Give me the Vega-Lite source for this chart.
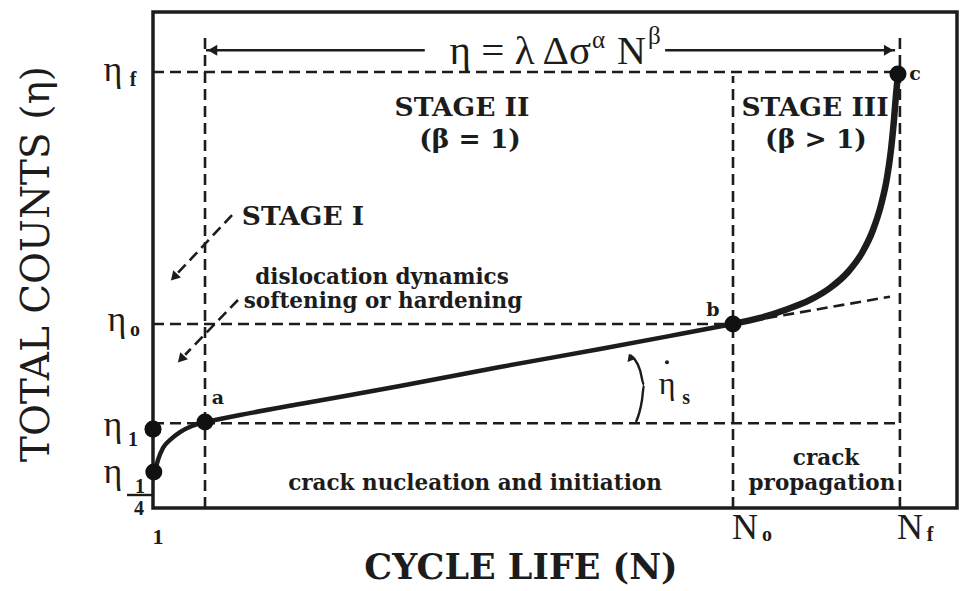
{
  "$schema": "https://vega.github.io/schema/vega-lite/v6.json",
  "width": 804,
  "height": 496,
  "autosize": "none",
  "padding": {"left": 153, "top": 12, "right": 5, "bottom": 83},
  "background": "#ffffff",
  "config": {
    "view": {"stroke": "#1c1c1c", "strokeWidth": 3.5},
    "font": "Liberation Serif",
    "text": {"font": "Liberation Serif", "color": "#1c1c1c"}
  },
  "datasets": {
    "curve": [
      {"stage": "I", "ord": 1, "n": 0.25, "eta": 7.26},
      {"stage": "I", "ord": 2, "n": 0.62, "eta": 9.68},
      {"stage": "I", "ord": 3, "n": 1.24, "eta": 12.1},
      {"stage": "I", "ord": 4, "n": 2.11, "eta": 13.71},
      {"stage": "I", "ord": 5, "n": 3.36, "eta": 15.32},
      {"stage": "I", "ord": 6, "n": 4.85, "eta": 16.53},
      {"stage": "I", "ord": 7, "n": 6.47, "eta": 17.34},
      {"stage": "II", "ord": 7, "n": 6.47, "eta": 17.34},
      {"stage": "II", "ord": 8, "n": 10.82, "eta": 18.75},
      {"stage": "II", "ord": 9, "n": 18.28, "eta": 20.97},
      {"stage": "II", "ord": 10, "n": 30.72, "eta": 24.6},
      {"stage": "II", "ord": 11, "n": 43.16, "eta": 28.43},
      {"stage": "II", "ord": 12, "n": 55.6, "eta": 32.06},
      {"stage": "II", "ord": 13, "n": 65.55, "eta": 35.08},
      {"stage": "II", "ord": 14, "n": 72.14, "eta": 37.1},
      {"stage": "III", "ord": 14, "n": 72.14, "eta": 37.1},
      {"stage": "III", "ord": 15, "n": 75.5, "eta": 38.31},
      {"stage": "III", "ord": 16, "n": 78.61, "eta": 39.92},
      {"stage": "III", "ord": 17, "n": 81.72, "eta": 41.94},
      {"stage": "III", "ord": 18, "n": 84.2, "eta": 44.35},
      {"stage": "III", "ord": 19, "n": 86.44, "eta": 47.58},
      {"stage": "III", "ord": 20, "n": 88.18, "eta": 51.41},
      {"stage": "III", "ord": 21, "n": 89.55, "eta": 56.05},
      {"stage": "III", "ord": 22, "n": 90.55, "eta": 61.09},
      {"stage": "III", "ord": 23, "n": 91.29, "eta": 66.53},
      {"stage": "III", "ord": 24, "n": 91.79, "eta": 72.18},
      {"stage": "III", "ord": 25, "n": 92.16, "eta": 78.23},
      {"stage": "III", "ord": 26, "n": 92.41, "eta": 83.27},
      {"stage": "III", "ord": 27, "n": 92.66, "eta": 87.5}
    ],
    "dashed": [
      {"id": "eta_f", "ord": 1, "n": 0, "eta": 87.9},
      {"id": "eta_f", "ord": 2, "n": 92.66, "eta": 87.9},
      {"id": "eta_0", "ord": 1, "n": 0, "eta": 37.1},
      {"id": "eta_0", "ord": 2, "n": 72.14, "eta": 37.1},
      {"id": "eta_1", "ord": 1, "n": 0, "eta": 17.1},
      {"id": "eta_1", "ord": 2, "n": 92.9, "eta": 17.1},
      {"id": "N_a", "ord": 1, "n": 6.47, "eta": 0},
      {"id": "N_a", "ord": 2, "n": 6.47, "eta": 95.4},
      {"id": "N_0", "ord": 1, "n": 72.14, "eta": 0},
      {"id": "N_0", "ord": 2, "n": 72.14, "eta": 87.1},
      {"id": "N_f", "ord": 1, "n": 92.9, "eta": 0},
      {"id": "N_f", "ord": 2, "n": 92.9, "eta": 95.8},
      {"id": "slope", "ord": 1, "n": 72.14, "eta": 37.1},
      {"id": "slope", "ord": 2, "n": 91.67, "eta": 42.6},
      {"id": "stageI_a", "ord": 1, "n": 9.83, "eta": 59.07},
      {"id": "stageI_a", "ord": 2, "n": 3.1, "eta": 47.4},
      {"id": "stageI_b", "ord": 1, "n": 10.57, "eta": 41.94},
      {"id": "stageI_b", "ord": 2, "n": 4.0, "eta": 30.9}
    ],
    "solid": [
      {"id": "span_left", "ord": 1, "n": 6.6, "eta": 92.3},
      {"id": "span_left", "ord": 2, "n": 33.8, "eta": 92.3},
      {"id": "span_right", "ord": 1, "n": 63.7, "eta": 92.3},
      {"id": "span_right", "ord": 2, "n": 92.3, "eta": 92.3},
      {"id": "rate_arc", "ord": 1, "n": 59.33, "eta": 30.85},
      {"id": "rate_arc", "ord": 2, "n": 60.57, "eta": 27.82},
      {"id": "rate_arc", "ord": 3, "n": 61.07, "eta": 24.8},
      {"id": "rate_arc", "ord": 4, "n": 60.82, "eta": 21.77},
      {"id": "rate_arc", "ord": 5, "n": 60.07, "eta": 17.34},
      {"id": "quarter_bar", "ord": 1, "n": -3.23, "eta": 2.62},
      {"id": "quarter_bar", "ord": 2, "n": -0.12, "eta": 2.62}
    ],
    "heads": [
      {"dir": "left", "n": 7.4, "eta": 92.3},
      {"dir": "right", "n": 91.5, "eta": 92.3},
      {"dir": "downleft", "n": 2.74, "eta": 46.77},
      {"dir": "downleft", "n": 3.61, "eta": 30.24},
      {"dir": "up", "n": 59.4, "eta": 30.2}
    ],
    "dots": [
      {"point": "eta_1/4", "n": 0.1, "eta": 7.26},
      {"point": "eta_1", "n": 0.0, "eta": 15.9},
      {"point": "a", "n": 6.47, "eta": 17.34},
      {"point": "b", "n": 72.14, "eta": 37.1},
      {"point": "c", "n": 92.66, "eta": 87.5}
    ],
    "accents": [
      {"mark": "rate_dot", "n": 63.93, "eta": 29.4}
    ],
    "labels": [
      {"group": "stage", "text": "STAGE II", "n": 38.43, "eta": 80.65},
      {"group": "stage", "text": "(β = 1)", "n": 39.43, "eta": 74.19},
      {"group": "stage", "text": "STAGE III", "n": 82.34, "eta": 80.65},
      {"group": "stage", "text": "(β > 1)", "n": 82.46, "eta": 74.19},
      {"group": "stage", "text": "STAGE I", "n": 18.66, "eta": 58.67},
      {"group": "note", "text": "dislocation dynamics", "n": 28.48, "eta": 46.37},
      {"group": "note", "text": "softening or hardening", "n": 28.6, "eta": 41.53},
      {"group": "note", "text": "crack nucleation and initiation", "n": 40.05, "eta": 4.84},
      {"group": "note", "text": "crack", "n": 83.71, "eta": 9.88},
      {"group": "note", "text": "propagation", "n": 83.2, "eta": 4.84},
      {"group": "point", "text": "a", "n": 8.08, "eta": 22.18},
      {"group": "point", "text": "b", "n": 69.65, "eta": 39.92},
      {"group": "point", "text": "c", "n": 94.78, "eta": 87.5},
      {"group": "formulaR", "text": "η = λ Δσ", "n": 54.48, "eta": 91.94},
      {"group": "formulaL", "text": "N", "n": 57.71, "eta": 91.94},
      {"group": "sup", "text": "α", "n": 54.6, "eta": 94.35},
      {"group": "sup", "text": "β", "n": 61.57, "eta": 95.16},
      {"group": "sym", "text": "η", "n": -4.98, "eta": 88.3},
      {"group": "sym", "text": "η", "n": -4.48, "eta": 37.9},
      {"group": "sym", "text": "η", "n": -4.98, "eta": 16.73},
      {"group": "sym", "text": "η", "n": -4.98, "eta": 7.26},
      {"group": "sym", "text": "N", "n": 73.63, "eta": -4.03},
      {"group": "sym", "text": "N", "n": 94.15, "eta": -4.03},
      {"group": "rate", "text": "η", "n": 63.93, "eta": 25.0},
      {"group": "sub", "text": "f", "n": -2.49, "eta": 86.29},
      {"group": "sub", "text": "o", "n": -2.24, "eta": 35.89},
      {"group": "sub", "text": "1", "n": -2.49, "eta": 13.71},
      {"group": "sub", "text": "1", "n": -1.62, "eta": 4.23},
      {"group": "sub", "text": "4", "n": -1.74, "eta": -0.2},
      {"group": "sub", "text": "o", "n": 76.37, "eta": -5.44},
      {"group": "sub", "text": "f", "n": 96.64, "eta": -5.44},
      {"group": "sub", "text": "s", "n": 66.3, "eta": 22.18},
      {"group": "tick", "text": "1", "n": 0.62, "eta": -5.85},
      {"group": "xtitle", "text": "CYCLE LIFE (N)", "n": 45.77, "eta": -12.1},
      {"group": "ytitle", "text": "TOTAL COUNTS (η)", "n": -14.43, "eta": 49.19}
    ]
  },
  "encoding": {
    "x": {"field": "n", "type": "quantitative", "scale": {"domain": [0, 100], "nice": false, "zero": false}, "axis": null},
    "y": {"field": "eta", "type": "quantitative", "scale": {"domain": [0, 100], "nice": false, "zero": false}, "axis": null}
  },
  "layer": [
    {
      "data": {"name": "dashed"},
      "mark": {"type": "line", "color": "#1c1c1c", "strokeWidth": 2.6, "strokeDash": [11, 6]},
      "encoding": {"detail": {"field": "id"}, "order": {"field": "ord"}}
    },
    {
      "data": {"name": "solid"},
      "mark": {"type": "line", "color": "#1c1c1c", "strokeWidth": 2.4, "interpolate": "monotone"},
      "encoding": {"detail": {"field": "id"}, "order": {"field": "ord"}}
    },
    {
      "data": {"name": "curve"},
      "transform": [{"filter": "datum.stage !== 'III'"}],
      "mark": {"type": "line", "color": "#1c1c1c", "strokeWidth": 4.5, "interpolate": "monotone"},
      "encoding": {"detail": {"field": "stage"}, "order": {"field": "ord"}}
    },
    {
      "data": {"name": "curve"},
      "transform": [{"filter": "datum.stage === 'III'"}],
      "mark": {"type": "line", "color": "#1c1c1c", "strokeWidth": 6.5, "interpolate": "monotone"},
      "encoding": {"order": {"field": "ord"}}
    },
    {
      "data": {"name": "heads"},
      "transform": [{"filter": "datum.dir === 'left'"}],
      "mark": {"type": "point", "shape": "triangle-left", "filled": true, "color": "#1c1c1c", "size": 120, "opacity": 1}
    },
    {
      "data": {"name": "heads"},
      "transform": [{"filter": "datum.dir === 'right'"}],
      "mark": {"type": "point", "shape": "triangle-right", "filled": true, "color": "#1c1c1c", "size": 120, "opacity": 1}
    },
    {
      "data": {"name": "heads"},
      "transform": [{"filter": "datum.dir === 'downleft'"}],
      "mark": {"type": "point", "shape": "triangle", "angle": 223, "filled": true, "color": "#1c1c1c", "size": 110, "opacity": 1}
    },
    {
      "data": {"name": "heads"},
      "transform": [{"filter": "datum.dir === 'up'"}],
      "mark": {"type": "point", "shape": "triangle", "angle": 340, "filled": true, "color": "#1c1c1c", "size": 70, "opacity": 1}
    },
    {
      "data": {"name": "dots"},
      "mark": {"type": "point", "shape": "circle", "filled": true, "color": "#111111", "size": 290, "opacity": 1}
    },
    {
      "data": {"name": "accents"},
      "mark": {"type": "point", "shape": "circle", "filled": true, "color": "#1c1c1c", "size": 16, "opacity": 1}
    },
    {
      "data": {"name": "labels"},
      "transform": [{"filter": "datum.group === 'stage'"}],
      "mark": {"type": "text", "font": "DejaVu Serif", "fontSize": 26.5, "fontWeight": "bold", "align": "center", "baseline": "middle"},
      "encoding": {"text": {"field": "text"}}
    },
    {
      "data": {"name": "labels"},
      "transform": [{"filter": "datum.group === 'note'"}],
      "mark": {"type": "text", "font": "DejaVu Serif", "fontSize": 21.5, "fontWeight": "bold", "align": "center", "baseline": "middle"},
      "encoding": {"text": {"field": "text"}}
    },
    {
      "data": {"name": "labels"},
      "transform": [{"filter": "datum.group === 'point'"}],
      "mark": {"type": "text", "font": "DejaVu Serif", "fontSize": 19, "fontWeight": "bold", "align": "center", "baseline": "middle"},
      "encoding": {"text": {"field": "text"}}
    },
    {
      "data": {"name": "labels"},
      "transform": [{"filter": "datum.group === 'formulaR'"}],
      "mark": {"type": "text", "fontSize": 41, "align": "right", "baseline": "middle"},
      "encoding": {"text": {"field": "text"}}
    },
    {
      "data": {"name": "labels"},
      "transform": [{"filter": "datum.group === 'formulaL'"}],
      "mark": {"type": "text", "fontSize": 40, "align": "left", "baseline": "middle"},
      "encoding": {"text": {"field": "text"}}
    },
    {
      "data": {"name": "labels"},
      "transform": [{"filter": "datum.group === 'sup'"}],
      "mark": {"type": "text", "fontSize": 25, "align": "left", "baseline": "middle"},
      "encoding": {"text": {"field": "text"}}
    },
    {
      "data": {"name": "labels"},
      "transform": [{"filter": "datum.group === 'sym'"}],
      "mark": {"type": "text", "fontSize": 36, "align": "center", "baseline": "middle"},
      "encoding": {"text": {"field": "text"}}
    },
    {
      "data": {"name": "labels"},
      "transform": [{"filter": "datum.group === 'rate'"}],
      "mark": {"type": "text", "fontSize": 32, "align": "center", "baseline": "middle"},
      "encoding": {"text": {"field": "text"}}
    },
    {
      "data": {"name": "labels"},
      "transform": [{"filter": "datum.group === 'sub'"}],
      "mark": {"type": "text", "fontSize": 20, "fontWeight": "bold", "align": "center", "baseline": "middle"},
      "encoding": {"text": {"field": "text"}}
    },
    {
      "data": {"name": "labels"},
      "transform": [{"filter": "datum.group === 'tick'"}],
      "mark": {"type": "text", "fontSize": 22, "fontWeight": "bold", "align": "center", "baseline": "middle"},
      "encoding": {"text": {"field": "text"}}
    },
    {
      "data": {"name": "labels"},
      "transform": [{"filter": "datum.group === 'xtitle'"}],
      "mark": {"type": "text", "font": "DejaVu Serif", "fontSize": 35, "fontWeight": "bold", "align": "center", "baseline": "middle"},
      "encoding": {"text": {"field": "text"}}
    },
    {
      "data": {"name": "labels"},
      "transform": [{"filter": "datum.group === 'ytitle'"}],
      "mark": {"type": "text", "font": "DejaVu Serif", "fontSize": 39, "angle": 270, "align": "center", "baseline": "middle"},
      "encoding": {"text": {"field": "text"}}
    }
  ]
}
